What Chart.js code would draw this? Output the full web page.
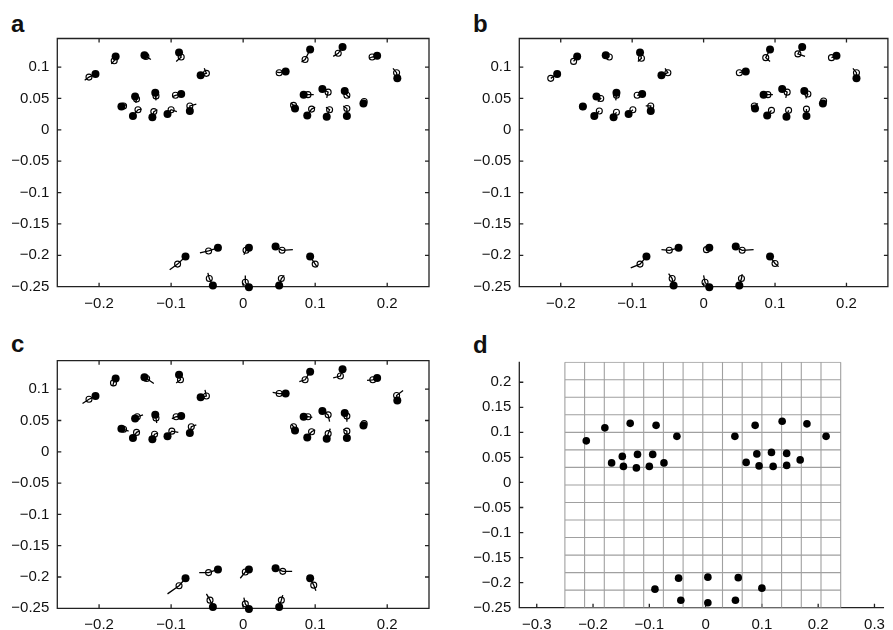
<!DOCTYPE html>
<html>
<head>
<meta charset="utf-8">
<script src="https://cdn.jsdelivr.net/npm/chart.js@4.4.0/dist/chart.umd.min.js"></script>
<style>
  body { margin: 0; background: #fff; width: 893px; height: 630px; position: relative; overflow: hidden; font-family: "Liberation Sans", Arial, sans-serif; }
  canvas { position: absolute; }
  .tag { position: absolute; font-weight: bold; font-size: 24px; line-height: 24px; color: #111; }
</style>
</head>
<body>
<div class="tag" style="left:11px;top:12px">a</div>
<div class="tag" style="left:473px;top:12px">b</div>
<div class="tag" style="left:11px;top:332px">c</div>
<div class="tag" style="left:473px;top:333px">d</div>
<canvas id="pa" width="446" height="315" style="left:0;top:0"></canvas>
<canvas id="pb" width="447" height="315" style="left:446px;top:0"></canvas>
<canvas id="pc" width="446" height="315" style="left:0;top:315px"></canvas>
<canvas id="pd" width="447" height="315" style="left:446px;top:315px"></canvas>
<script>
// landmark positions (filled dots), same in a, b, c
const landX = [-0.205,-0.177,-0.137,-0.089,-0.059,-0.169,-0.150,-0.153,-0.122,-0.126,-0.086,-0.105,-0.074, 0.059,0.093,0.138,0.186,0.214,0.084,0.110,0.141,0.072,0.089,0.116,0.144,0.167, -0.080,-0.035,0.008,0.045,0.093,-0.042,0.008,0.050]
const landY = [0.089,0.117,0.119,0.123,0.087,0.037,0.053,0.022,0.059,0.020,0.057,0.025,0.030, 0.093,0.128,0.132,0.118,0.082,0.056,0.065,0.062,0.034,0.023,0.021,0.022,0.042, -0.202,-0.188,-0.188,-0.186,-0.202,-0.248,-0.251,-0.248]

// panel a: estimates (open circles) and line ends
const openAX = [-0.214,-0.179,-0.135,-0.086,-0.051,-0.166,-0.148,-0.146,-0.121,-0.124,-0.094,-0.100,-0.074, 0.050,0.086,0.132,0.179,0.213,0.090,0.118,0.144,0.070,0.095,0.120,0.144,0.168, -0.091,-0.048,0.004,0.054,0.100,-0.047,0.003,0.053]
const openAY = [0.084,0.110,0.117,0.116,0.090,0.038,0.049,0.032,0.054,0.029,0.055,0.032,0.038, 0.091,0.112,0.122,0.116,0.091,0.056,0.060,0.055,0.039,0.033,0.032,0.034,0.045, -0.214,-0.193,-0.192,-0.192,-0.214,-0.237,-0.243,-0.237]
const tailAX = [-0.220,-0.183,-0.128,-0.093,-0.054,-0.162,-0.149,-0.141,-0.121,-0.119,-0.098,-0.092,-0.065, 0.047,0.081,0.125,0.175,0.208,0.098,0.116,0.148,0.066,0.100,0.115,0.139,0.169, -0.102,-0.060,0.001,0.069,0.103,-0.049,0.003,0.057]
const tailAY = [0.079,0.105,0.112,0.109,0.098,0.040,0.043,0.033,0.047,0.032,0.053,0.029,0.041, 0.092,0.108,0.117,0.114,0.098,0.056,0.051,0.051,0.043,0.036,0.036,0.038,0.046, -0.223,-0.196,-0.199,-0.191,-0.219,-0.228,-0.232,-0.232]

// panel b
const openBX = [-0.214,-0.182,-0.132,-0.087,-0.050,-0.169,-0.144,-0.146,-0.122,-0.122,-0.093,-0.099,-0.074, 0.050,0.087,0.132,0.179,0.214,0.090,0.117,0.146,0.071,0.095,0.119,0.144,0.168, -0.089,-0.048,0.004,0.054,0.100,-0.044,0.002,0.053]
const openBY = [0.082,0.109,0.116,0.114,0.091,0.037,0.050,0.030,0.055,0.028,0.055,0.032,0.038, 0.091,0.115,0.121,0.115,0.091,0.056,0.060,0.057,0.038,0.031,0.031,0.033,0.046, -0.214,-0.192,-0.191,-0.192,-0.213,-0.237,-0.243,-0.237]
const tailBX = [-0.214,-0.182,-0.132,-0.092,-0.054,-0.169,-0.148,-0.146,-0.123,-0.122,-0.093,-0.099,-0.081, 0.050,0.093,0.142,0.179,0.209,0.097,0.115,0.143,0.076,0.095,0.119,0.144,0.168, -0.102,-0.059,0.004,0.070,0.105,-0.049,0.000,0.054]
const tailBY = [0.082,0.109,0.116,0.109,0.098,0.037,0.045,0.030,0.047,0.028,0.055,0.032,0.038, 0.091,0.109,0.117,0.115,0.098,0.056,0.051,0.050,0.042,0.031,0.031,0.033,0.046, -0.220,-0.191,-0.191,-0.191,-0.218,-0.229,-0.232,-0.230]

// panel c
const openCX = [-0.214,-0.180,-0.134,-0.087,-0.051,-0.166,-0.147,-0.148,-0.121,-0.123,-0.093,-0.099,-0.072, 0.050,0.086,0.135,0.180,0.213,0.090,0.118,0.144,0.070,0.095,0.118,0.144,0.168, -0.089,-0.048,0.003,0.055,0.098,-0.046,0.003,0.053]
const openCY = [0.084,0.110,0.117,0.115,0.089,0.036,0.056,0.031,0.054,0.028,0.056,0.033,0.040, 0.093,0.115,0.121,0.115,0.090,0.056,0.059,0.057,0.040,0.032,0.029,0.033,0.045, -0.214,-0.193,-0.192,-0.191,-0.213,-0.237,-0.243,-0.237]
const tailCX = [-0.223,-0.181,-0.124,-0.093,-0.053,-0.159,-0.139,-0.144,-0.120,-0.118,-0.099,-0.090,-0.065, 0.041,0.078,0.125,0.172,0.222,0.096,0.120,0.144,0.067,0.100,0.121,0.139,0.169, -0.105,-0.061,-0.004,0.068,0.101,-0.051,0.001,0.055]
const tailCY = [0.077,0.105,0.109,0.110,0.099,0.033,0.059,0.033,0.046,0.030,0.053,0.031,0.043, 0.095,0.112,0.118,0.114,0.098,0.055,0.048,0.048,0.044,0.035,0.037,0.036,0.047, -0.227,-0.193,-0.202,-0.191,-0.222,-0.227,-0.233,-0.229]

// panel d: warped landmarks and grid lines
const warpX = [-0.212,-0.179,-0.134,-0.088,-0.051,-0.167,-0.148,-0.146,-0.121,-0.123,-0.094,-0.100,-0.074, 0.052,0.088,0.136,0.180,0.214,0.091,0.117,0.144,0.072,0.095,0.120,0.144,0.168, -0.090,-0.048,0.004,0.058,0.100,-0.044,0.004,0.053]
const warpY = [0.083,0.109,0.118,0.114,0.092,0.039,0.052,0.032,0.056,0.029,0.056,0.032,0.039, 0.092,0.114,0.122,0.117,0.092,0.057,0.060,0.058,0.040,0.033,0.032,0.034,0.045, -0.213,-0.191,-0.189,-0.190,-0.211,-0.235,-0.240,-0.235]
const gridX = [-0.25,-0.215,-0.18,-0.145,-0.11,-0.075,-0.04,-0.005,0.03,0.065,0.10,0.135,0.17,0.205,0.24]
const gridY = [-0.25,-0.215,-0.18,-0.145,-0.11,-0.075,-0.04,-0.005,0.03,0.065,0.10,0.135,0.17,0.205,0.24]

// tick labels
const xTicksABC = [-0.2,-0.1,0,0.1,0.2]
const yTicksABC = [-0.25,-0.2,-0.15,-0.1,-0.05,0,0.05,0.1]
const xTicksD = [-0.3,-0.2,-0.1,0,0.1,0.2,0.3]
const yTicksD = [-0.25,-0.2,-0.15,-0.1,-0.05,0,0.05,0.1,0.15,0.2]

const frame = {
  id: 'frame',
  beforeDatasetsDraw(chart, args, opts) {
    const {ctx, chartArea: a, scales: {x, y}} = chart
    ctx.save()
    ctx.strokeStyle = '#222'
    ctx.lineWidth = 1.3
    ctx.beginPath()
    if (opts.box) {
      ctx.rect(a.left, a.top, a.right - a.left, a.bottom - a.top)
    } else {
      ctx.moveTo(a.left, a.top)
      ctx.lineTo(a.left, a.bottom)
      ctx.lineTo(a.right, a.bottom)
    }
    x.ticks.forEach(t => {
      const p = x.getPixelForValue(t.value)
      ctx.moveTo(p, a.bottom); ctx.lineTo(p, a.bottom - 4)
      if (opts.box) { ctx.moveTo(p, a.top); ctx.lineTo(p, a.top + 4) }
    })
    y.ticks.forEach(t => {
      const p = y.getPixelForValue(t.value)
      ctx.moveTo(a.left, p); ctx.lineTo(a.left + 4, p)
      if (opts.box) { ctx.moveTo(a.right, p); ctx.lineTo(a.right - 4, p) }
    })
    ctx.stroke()
    ctx.restore()
  }
}

const fmt = v => String(v).replace('-', '\u2212')

function axis(min, max, ticks, size, isY) {
  return {
    type: 'linear', min: min, max: max,
    grid: {display: false, drawTicks: false},
    border: {display: false},
    afterBuildTicks: s => { s.ticks = ticks.map(v => ({value: v})) },
    afterFit: s => { if (isY) s.width = size; else s.height = size },
    ticks: {
      callback: fmt, color: '#111', padding: isY ? 8 : 8, maxRotation: 0,
      font: {family: 'Liberation Sans', size: 15}
    }
  }
}

function segs(openX, openY, tailX, tailY) {
  const pts = []
  landX.forEach((x, i) => {
    pts.push({x: x, y: landY[i]}, {x: openX[i], y: openY[i]}, {x: tailX[i], y: tailY[i]}, {x: tailX[i], y: null})
  })
  return pts
}

function pts(xs, ys) {
  return xs.map((x, i) => ({x: x, y: ys[i]}))
}

function makeMotion(id, openX, openY, tailX, tailY, pad, yw, xh) {
  new Chart(document.getElementById(id), {
    type: 'scatter',
    data: {
      datasets: [
        {data: pts(landX, landY), pointRadius: 4, backgroundColor: '#000', borderWidth: 0, order: 0, clip: false},
        {data: pts(openX, openY), pointRadius: 3, backgroundColor: 'rgba(0,0,0,0)', borderColor: '#000', borderWidth: 1.1, order: 1, clip: false},
        {data: segs(openX, openY, tailX, tailY), showLine: true, spanGaps: false, pointRadius: 0, borderColor: '#000', borderWidth: 1.3, order: 2, clip: false}
      ]
    },
    options: {
      responsive: false, animation: false,
      layout: {padding: pad},
      plugins: {legend: {display: false}, tooltip: {enabled: false}, frame: {box: true}},
      scales: {
        x: axis(-0.258, 0.258, xTicksABC, xh, false),
        y: axis(-0.25, 0.1455, yTicksABC, yw, true)
      }
    },
    plugins: [frame]
  })
}

makeMotion('pa', openAX, openAY, tailAX, tailAY, {left: 0, top: 38.5, right: 17, bottom: 0}, 57.3, 28.3)
makeMotion('pb', openBX, openBY, tailBX, tailBY, {left: 0, top: 38.5, right: 3, bottom: 0}, 73.3, 28.3)
makeMotion('pc', openCX, openCY, tailCX, tailCY, {left: 0, top: 45.7, right: 17, bottom: 0}, 57.3, 21.7)

// panel d grid lines
const gridPts = []
gridX.forEach(gx => { gridPts.push({x: gx, y: gridY[0]}, {x: gx, y: gridY[gridY.length - 1]}, {x: gx, y: null}) })
gridY.forEach(gy => { gridPts.push({x: gridX[0], y: gy}, {x: gridX[gridX.length - 1], y: gy}, {x: gridX[0], y: null}) })

new Chart(document.getElementById('pd'), {
  type: 'scatter',
  data: {
    datasets: [
      {data: pts(warpX, warpY), pointRadius: 3.8, backgroundColor: '#000', borderWidth: 0, order: 0, clip: false},
      {data: gridPts, showLine: true, spanGaps: false, pointRadius: 0, borderColor: '#a0a0a0', borderWidth: 1.1, order: 1}
    ]
  },
  options: {
    responsive: false, animation: false,
    layout: {padding: {left: 0, top: 46.7, right: 1.3, bottom: 0}},
    plugins: {legend: {display: false}, tooltip: {enabled: false}, frame: {box: false}},
    scales: {
      x: axis(-0.331, 0.317, xTicksD, 22.3, false),
      y: axis(-0.25, 0.241, yTicksD, 73.3, true)
    }
  },
  plugins: [frame]
})
</script>
</body>
</html>
